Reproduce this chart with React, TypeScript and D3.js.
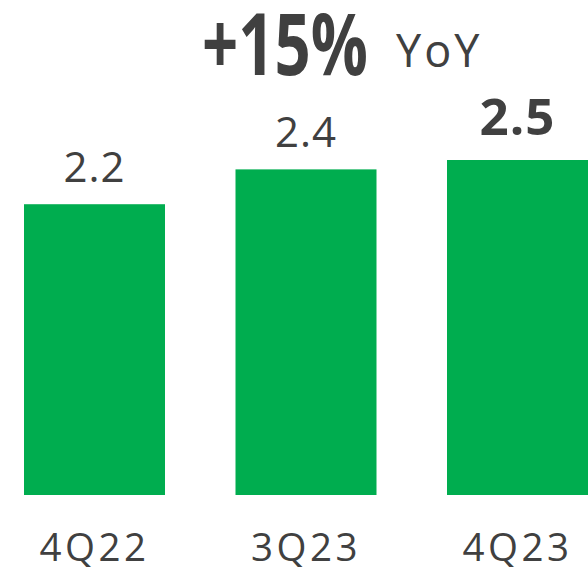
import React from "react";
import * as d3 from "d3";

const categories = ["4Q22", "3Q23", "4Q23"];
const values = [2.17, 2.43, 2.5];
const highlight = [false, false, true];
const headline = "+15%";
const headlineSuffix = "YoY";

const W = 588;
const H = 572;
const GREEN = "#00AD4F";
const TEXT = "#404040";
const FONT = "'Open Sans', 'DejaVu Sans', sans-serif";

export default function App() {
  const x = d3
    .scaleBand<string>()
    .domain(categories)
    .range([-11.25, 623.25])
    .paddingInner(1 / 3)
    .paddingOuter(1 / 6);
  const y = d3.scaleLinear().domain([0, 2.5]).range([495, 160]);
  const fmt = d3.format(".1f");

  return (
    <svg
      width={W}
      height={H}
      style={{ position: "absolute", left: 0, top: 0, background: "#fff" }}
      fontFamily={FONT}
    >
      {categories.map((c, i) => {
        const bx = x(c)!;
        const bw = x.bandwidth();
        const top = y(values[i]);
        const cx = bx + bw / 2;
        return (
          <g key={c}>
            <rect x={bx} y={top} width={bw} height={y(0) - top} fill={GREEN} />
            <text
              x={cx}
              y={top - (highlight[i] ? 25 : 22)}
              textAnchor="middle"
              fill={TEXT}
              fontSize={highlight[i] ? 51 : 42}
              fontWeight={highlight[i] ? 700 : 400}
              letterSpacing={1}
            >
              {fmt(values[i])}
            </text>
            <text
              x={cx}
              y={561}
              textAnchor="middle"
              fill={TEXT}
              fontSize={38.5}
              letterSpacing={3.5}
            >
              {c}
            </text>
          </g>
        );
      })}
      <text
        x={202}
        y={75}
        fill={TEXT}
        fontSize={86}
        fontWeight={700}
        textLength={166}
        lengthAdjust="spacingAndGlyphs"
      >
        {headline}
      </text>
      <text x={396} y={66.7} fill={TEXT} fontSize={45} letterSpacing={3}>
        {headlineSuffix}
      </text>
    </svg>
  );
}
